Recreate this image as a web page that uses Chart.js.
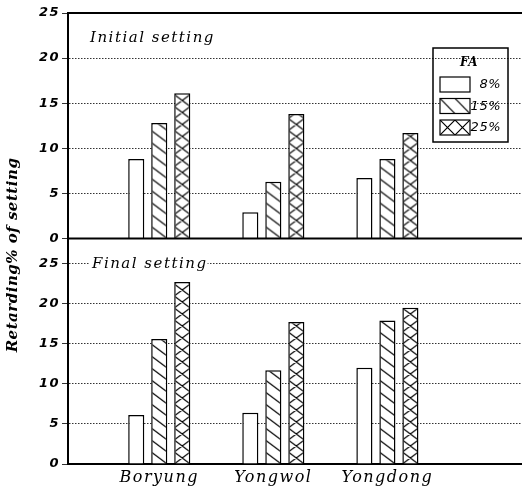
<!DOCTYPE html>
<html>
<head>
<meta charset="utf-8">
<script src="https://cdn.jsdelivr.net/npm/chart.js@4.4.1/dist/chart.umd.min.js"></script>
<style>
  html, body { margin: 0; padding: 0; background: #fff; }
  #wrap { width: 522px; height: 493px; position: relative; }
</style>
</head>
<body>
<div id="wrap"><canvas id="retardChart"></canvas></div>
<script>
const sources = ["Boryung", "Yongwol", "Yongdong"];
const faLevels = ["8%", "15%", "25%"];
const yTicks = [0, 5, 10, 15, 20, 25];

// Initial setting (Boryung, Yongwol, Yongdong)
const initial8 = [8.8, 2.9, 6.7];
const initial15 = [12.8, 6.3, 8.8];
const initial25 = [16.1, 13.8, 11.7];

// Final setting
const final8 = [6.1, 6.4, 12.0];
const final15 = [15.6, 11.7, 17.9];
const final25 = [22.7, 17.7, 19.5];

const CAT_PCT = 0.605;
const BAR_PCT = 0.7;
const hatchDirs = [[], ["down"], ["down", "up"]];

/**
 * HATCH PATTERNS
 */
function makePattern(dirs, w, h, dx, dy) {
  const c = document.createElement("canvas");
  c.width = w;
  c.height = h;
  const g = c.getContext("2d");
  g.fillStyle = "#fff";
  g.fillRect(0, 0, w, h);
  g.strokeStyle = "#000";
  g.lineWidth = 1.2;
  g.beginPath();
  for (let k = -1; k <= 1; k++) {
    if (dirs.includes("down")) {
      g.moveTo(k * w, 0);
      g.lineTo(k * w + w, h);
    }
    if (dirs.includes("up")) {
      g.moveTo(k * w + w, 0);
      g.lineTo(k * w, h);
    }
  }
  g.stroke();
  const p = g.createPattern(c, "repeat");
  p.setTransform(new DOMMatrix().translate(dx || 0, dy || 0));
  return p;
}

// pattern lined up with the left edge of each bar
function barFill(level) {
  return c => {
    if (level === 0) return "#ffffff";
    const chart = c.chart;
    const xs = chart.scales.x;
    if (!xs || !c.raw) return makePattern(hatchDirs[level], 16, 12);
    const step = xs.getPixelForValue(2) - xs.getPixelForValue(1);
    const slot = step * CAT_PCT / 3;
    const left = xs.getPixelForValue(c.raw.x) + (level - 1) * slot - slot * BAR_PCT / 2;
    const zero = chart.scales[c.dataset.yAxisID].getPixelForValue(0);
    return makePattern(hatchDirs[level], 16, 12, left, zero);
  };
}

function points(vals) {
  return sources.map((s, i) => ({ x: i + 1, y: vals[i] }));
}

function panelSets(series, axis, panel) {
  return series.map((vals, i) => ({
    label: faLevels[i],
    panel: panel,
    level: i,
    stack: "fa" + i,
    yAxisID: axis,
    data: points(vals),
    backgroundColor: barFill(i),
    borderColor: "#000",
    borderWidth: 1.5,
    categoryPercentage: CAT_PCT,
    barPercentage: BAR_PCT
  }));
}

const tickFont = { family: "DejaVu Sans", size: 13, weight: "bold", style: "italic" };

function yScale(max) {
  return {
    type: "linear",
    position: "left",
    stack: "panels",
    stackWeight: 1,
    stacked: false,
    min: 0,
    max: max,
    afterBuildTicks: s => { s.ticks = yTicks.map(v => ({ value: v })); },
    afterFit: s => { s.width = 68; },
    grid: { color: "#333", lineWidth: 1, drawTicks: true, tickLength: 6 },
    border: { display: true, color: "#000", width: 2, dash: [1.5, 1.5] },
    ticks: { color: "#000", font: tickFont, padding: 2 }
  };
}

/**
 * FRAME, LABELS AND LEGEND
 */
const framePlugin = {
  id: "frame",
  beforeDraw(chart) {
    chart.ctx.letterSpacing = "1.5px";
  },
  afterDatasetsDraw(chart) {
    const ctx = chart.ctx;
    const area = chart.chartArea;
    const yi = chart.scales.yInitial;
    ctx.save();
    ctx.strokeStyle = "#000";
    ctx.lineWidth = 2;
    [yi.getPixelForValue(0), yi.getPixelForValue(25)].forEach(py => {
      ctx.beginPath();
      ctx.moveTo(area.left, py);
      ctx.lineTo(area.right, py);
      ctx.stroke();
    });
    ctx.restore();
  },
  afterDraw(chart) {
    const ctx = chart.ctx;
    const area = chart.chartArea;
    const yi = chart.scales.yInitial;
    const yf = chart.scales.yFinal;
    ctx.save();
    ctx.fillStyle = "#000";
    ctx.textBaseline = "middle";

    // panel labels (white box breaks the grid line)
    ctx.letterSpacing = "1.5px";
    ctx.font = "italic 15px 'DejaVu Serif'";
    const panels = [
      ["Initial setting", area.left + 22, yi.getPixelForValue(25) + 25],
      ["Final setting", area.left + 24, yf.top + 26]
    ];
    panels.forEach(([txt, px, py]) => {
      const w = ctx.measureText(txt).width;
      ctx.fillStyle = "#fff";
      ctx.fillRect(px - 2, py - 8, w + 2, 16);
      ctx.fillStyle = "#000";
      ctx.fillText(txt, px, py);
    });

    // y axis title
    ctx.save();
    ctx.translate(13, 255);
    ctx.rotate(-Math.PI / 2);
    ctx.textAlign = "center";
    ctx.letterSpacing = "0.5px";
    ctx.font = "italic bold 15px 'DejaVu Serif'";
    ctx.fillText("Retarding% of setting", 0, 0);
    ctx.restore();

    // legend box (transparent, grid shows through)
    const lx = area.right - 89, ly = 48, lw = 75, lh = 94;
    ctx.letterSpacing = "0.5px";
    ctx.strokeStyle = "#000";
    ctx.lineWidth = 1.5;
    ctx.strokeRect(lx, ly, lw, lh);
    ctx.fillStyle = "#000";
    ctx.textAlign = "center";
    ctx.font = "italic bold 12px 'DejaVu Serif'";
    ctx.fillText("FA", lx + 36, ly + 15);

    const items = chart.data.datasets.filter(d => d.panel === "initial");
    items.forEach((d, i) => {
      const sx = lx + 7, sy = ly + 29 + i * 21.5;
      ctx.fillStyle = d.level === 0 ? "#ffffff" : makePattern(hatchDirs[d.level], 15, 15, sx, sy);
      ctx.fillRect(sx, sy, 30, 15);
      ctx.strokeStyle = "#000";
      ctx.lineWidth = 1.2;
      ctx.strokeRect(sx, sy, 30, 15);
      ctx.fillStyle = "#000";
      ctx.textAlign = "right";
      ctx.font = "italic 13px 'DejaVu Sans'";
      ctx.fillText(d.label, lx + 68, sy + 8);
    });
    ctx.restore();
  }
};

const datasets = panelSets([final8, final15, final25], "yFinal", "final")
  .concat(panelSets([initial8, initial15, initial25], "yInitial", "initial"));

new Chart(document.getElementById("retardChart"), {
  type: "bar",
  data: { datasets: datasets },
  options: {
    responsive: true,
    maintainAspectRatio: false,
    animation: false,
    layout: { padding: { top: 13, right: 0, bottom: 0, left: 0 } },
    plugins: {
      legend: { display: false },
      tooltip: { enabled: false }
    },
    scales: {
      x: {
        type: "linear",
        offset: false,
        min: 0.2,
        max: 4.18,
        afterBuildTicks: s => { s.ticks = sources.map((n, i) => ({ value: i + 1 })); },
        afterFit: s => { s.height = 29; },
        grid: { display: false, drawTicks: false },
        border: { display: true, color: "#000", width: 2 },
        ticks: {
          color: "#000",
          padding: 4,
          maxRotation: 0,
          autoSkip: false,
          font: { family: "DejaVu Serif", size: 16, style: "italic" },
          callback: v => sources[v - 1]
        }
      },
      yFinal: yScale(28.125),
      yInitial: yScale(25)
    }
  },
  plugins: [framePlugin]
});
</script>
</body>
</html>
